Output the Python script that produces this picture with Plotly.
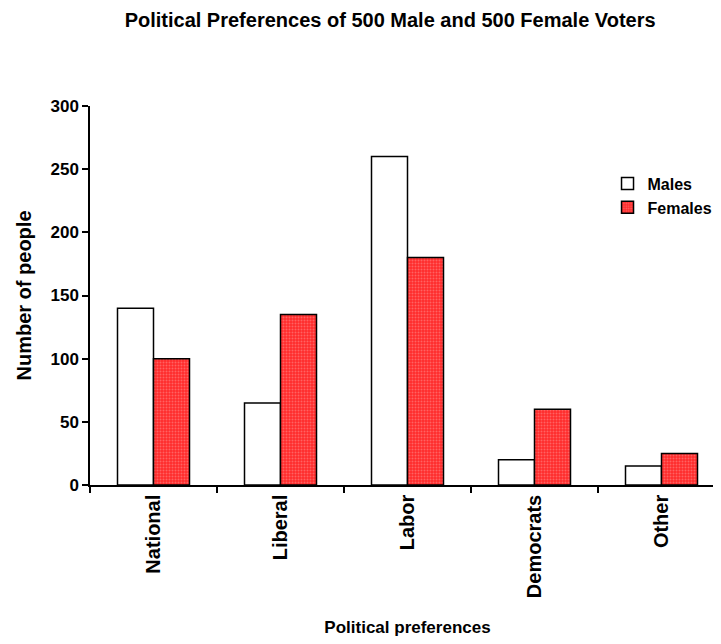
import plotly.graph_objects as go

categories = ["National", "Liberal", "Labor", "Democrats", "Other"]
males = [140, 65, 260, 20, 15]
females = [100, 135, 180, 60, 25]
y_ticks = [0, 50, 100, 150, 200, 250, 300]

FONT = "Liberation Sans, Arial, sans-serif"

fig = go.Figure()
fig.add_trace(go.Bar(
    x=categories, y=males, name="<b>Males</b>",
    marker=dict(color="white", line=dict(color="black", width=1.5)),
))
fig.add_trace(go.Bar(
    x=categories, y=females, name="<b>Females</b>",
    marker=dict(color="#ff2b2b", line=dict(color="black", width=1.5),
                pattern=dict(shape=".", fgcolor="#ff9a9a", bgcolor="#ff2b2b",
                             size=3, solidity=0.35)),
))

fig.update_layout(
    width=721, height=644,
    paper_bgcolor="white", plot_bgcolor="white",
    margin=dict(l=82, r=4, t=98, b=167, autoexpand=False),
    barmode="group", bargap=0.433, bargroupgap=0,
    title=dict(text="<b>Political Preferences of 500 Male and 500 Female Voters</b>",
               x=0.53, xanchor="center", xref="container",
               y=0.982, yanchor="middle",
               font=dict(family=FONT, size=20, color="black")),
    font=dict(family=FONT, color="black"),
    legend=dict(x=0.815, y=0.84, xanchor="left", yanchor="top",
                font=dict(family=FONT, size=16, color="black"),
                bgcolor="rgba(0,0,0,0)", tracegroupgap=4, itemwidth=30,
                borderwidth=0),
    showlegend=True,
)

fig.update_xaxes(
    showline=True, linecolor="black", linewidth=1.5,
    ticks="outside", ticklen=6, tickcolor="black", tickwidth=1.5,
    tickson="boundaries", tickangle=-90,
    tickvals=categories, ticktext=["<b>%s</b>" % c for c in categories],
    tickfont=dict(family=FONT, size=20, color="black"),
    title=dict(text="<b>Political preferences</b>", standoff=24,
               font=dict(family=FONT, size=17, color="black")),
    showgrid=False, automargin=False,
)
fig.update_yaxes(
    range=[0, 300], tickvals=y_ticks,
    ticktext=["<b>%d</b>" % v for v in y_ticks],
    showline=True, linecolor="black", linewidth=1.5,
    ticks="outside", ticklen=6, tickcolor="black", tickwidth=1.5,
    tickfont=dict(family=FONT, size=17, color="black"),
    title=dict(text="<b>Number of people</b>", standoff=13,
               font=dict(family=FONT, size=20, color="black")),
    showgrid=False, zeroline=False, automargin=False,
)

fig.write_html("out.html")
